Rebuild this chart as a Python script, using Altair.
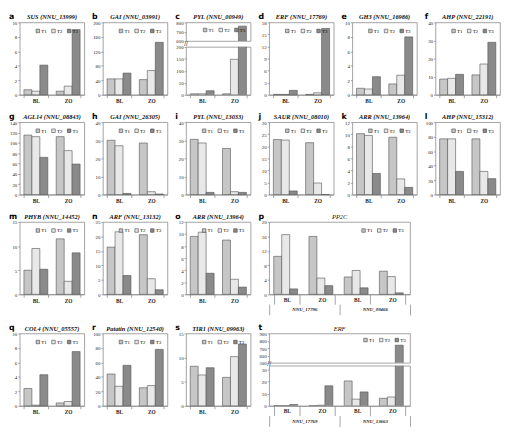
import altair as alt
import pandas as pd

treatments = ["T1", "T2", "T3"]
groups = ["BL", "ZO"]
bar_colors = ["#c6c6c6", "#e8e8e8", "#8a8a8a"]

letters = list("abcdefghijklmnopqrst")
titles = ["SUS (NNU_13999)", "GAI (NNU_03991)", "PYL (NNU_00949)", "ERF (NNU_17769)",
          "GH3 (NNU_16986)", "AHP (NNU_22191)", "AGL14 (NNU_08843)", "GAI (NNU_26305)",
          "PYL (NNU_13033)", "SAUR (NNU_08010)", "ARR (NNU_13964)", "AHP (NNU_15312)",
          "PHYB (NNU_14452)", "ARF (NNU_13132)", "ARR (NNU_13964)", "PP2C",
          "COL4 (NNU_05557)", "Patatin (NNU_12540)", "TIR1 (NNU_09963)", "ERF"]

# values: BL T1, T2, T3, ZO T1, T2, T3
v_a = [0.7, 0.5, 4.1, 0.5, 1.2, 9.0]
v_b = [44, 44, 60, 42, 67, 145]
v_c = [4, 4, 17, 4, 148, 760]
v_d = [0.1, 0.1, 1.1, 0.1, 0.5, 16.5]
v_e = [0.9, 0.8, 2.5, 1.5, 2.7, 8.0]
v_f = [8.7, 9.1, 11.3, 11.0, 17.0, 29.0]
v_g = [115, 112, 72, 112, 85, 59]
v_h = [30, 27, 0.6, 28.5, 1.6, 0.3]
v_i = [30.5, 28.5, 1.2, 25.5, 1.6, 1.2]
v_j = [22.8, 22.6, 1.5, 21.5, 4.8, 0]
v_k = [10.1, 9.8, 3.5, 9.5, 2.6, 1.2]
v_l = [77, 77, 32, 77, 32, 22]
v_m = [5.0, 9.5, 5.2, 11.5, 2.7, 8.6]
v_n = [16.3, 21.6, 6.5, 20.6, 5.4, 1.6]
v_o = [9.6, 10.3, 3.5, 9.0, 2.5, 1.2]
v_q = [2.4, 0.1, 4.3, 0.4, 0.6, 7.5]
v_r = [44, 27, 56, 25, 28, 78]
v_s = [8.2, 6.4, 7.9, 5.9, 10.2, 12.8]
# wide panels: gene1 BL, gene1 ZO, gene2 BL, gene2 ZO (T1, T2, T3 each)
p_genes = ["NNU_17796", "NNU_09466"]
v_p = [10.5, 16.5, 1.5, 16.0, 4.5, 2.4, 4.8, 6.6, 1.8, 6.4, 4.9, 0.4]
t_genes = ["NNU_17769", "NNU_13663"]
v_t = [0.1, 0.1, 1.1, 0.1, 0.5, 16.5, 20.5, 5.5, 11.5, 6.2, 7.3, 740]

t_a = [0, 2, 4, 6, 8, 10]
t_b = [0, 40, 80, 120, 160, 200]
t_c_low = [0, 50, 100, 150, 200]
t_c_high = [600, 700, 800]
t_d = [0, 3, 6, 9, 12, 15, 18]
t_e = [0, 2, 4, 6, 8, 10]
t_f = [0, 10, 20, 30, 40]
t_g = [0, 20, 40, 60, 80, 100, 120, 140]
t_h = [0, 10, 20, 30, 40]
t_i = [0, 10, 20, 30, 40]
t_j = [0, 5, 10, 15, 20, 25, 30]
t_k = [0, 2, 4, 6, 8, 10, 12]
t_l = [0, 20, 40, 60, 80, 100]
t_m = [0, 5, 10, 15]
t_n = [0, 5, 10, 15, 20, 25]
t_o = [0, 2, 4, 6, 8, 10, 12]
t_p = [0, 4, 8, 12, 16, 20]
t_q = [0, 2, 4, 6, 8, 10]
t_r = [0, 20, 40, 60, 80, 100]
t_s = [0, 5, 10, 15]
t_t_low = [0, 10, 20, 30]
t_t_high = [500, 600, 700, 800, 900]

W = 66
H = 74
WW = 144
SERIF = "Liberation Serif"


def legend(offset=6):
    return alt.Legend(orient="top-right", direction="horizontal", title=None,
                      columns=3, symbolType="square", symbolSize=13,
                      symbolStrokeColor="#444", symbolStrokeWidth=0.6,
                      labelFontSize=5, labelFont=SERIF, labelOffset=1,
                      columnPadding=3, offset=offset, padding=0)


def x_small():
    return alt.Axis(labelAngle=0, labelFontSize=5.5, labelFontWeight="bold",
                    labelFont=SERIF, tickBand="extent", tickSize=3, labelPadding=1)


def x_wide():
    return alt.Axis(labelAngle=0, labelFontSize=5.5, labelFontWeight="bold",
                    labelFont=SERIF, tickBand="extent", tickSize=10, labelPadding=-7,
                    labelExpr="substring(datum.label, 1)")


def bar_layer(df, xfield, xsort, xaxis, ticks, domain, leg=None, clip=False):
    color = alt.Color("treat:N", scale=alt.Scale(domain=treatments, range=bar_colors),
                      legend=leg if leg is not None else None)
    return alt.Chart(df).mark_bar(stroke="#505050", strokeWidth=0.6, clip=clip).encode(
        x=alt.X(f"{xfield}:N", sort=xsort, title=None,
                scale=alt.Scale(paddingInner=0.26, paddingOuter=0.13), axis=xaxis),
        xOffset=alt.XOffset("treat:N", sort=treatments, scale=alt.Scale(paddingInner=0, paddingOuter=0)),
        y=alt.Y("value:Q", scale=alt.Scale(domain=domain, nice=False, zero=False), title=None,
                axis=alt.Axis(values=ticks, labelFontSize=5, tickSize=2, labelPadding=1,
                              domain=False, grid=False, labelOverlap=False)),
        color=color,
    )


def labels(letter, title, width, bold_title=True):
    return [
        alt.Chart(pd.DataFrame({"l": [letter]})).mark_text(
            font="DejaVu Sans", fontWeight="bold", fontSize=8, align="left", baseline="bottom"
        ).encode(x=alt.value(-11), y=alt.value(-1.5), text="l:N"),
        alt.Chart(pd.DataFrame({"l": [title]})).mark_text(
            font=SERIF, fontWeight="bold" if bold_title else "normal", fontStyle="italic",
            fontSize=6.5, align="center", baseline="bottom", color="#111"
        ).encode(x=alt.value(width / 2), y=alt.value(-2), text="l:N"),
    ]


def break_mark(gap):
    return alt.Chart(pd.DataFrame({"k": ["//"]})).mark_text(fontSize=7, color="#444").encode(
        x=alt.value(0), y=alt.value(-gap / 2), text="k:N")


def small_df(vals):
    return pd.DataFrame({"group": [g for g in groups for _ in treatments],
                         "treat": treatments * 2, "value": vals})


def wide_df(vals):
    keys = [f"{i}{g}" for i in range(2) for g in groups]
    return keys, pd.DataFrame({"key": [k for k in keys for _ in treatments],
                               "treat": treatments * 4, "value": vals})


def gene_axis(genes):
    return alt.Chart(pd.DataFrame({"gene": genes})).mark_point(opacity=0).encode(
        x=alt.X("gene:N", sort=genes, title=None,
                scale=alt.Scale(paddingInner=0, paddingOuter=0),
                axis=alt.Axis(orient="bottom", offset=10, domain=False, tickBand="extent",
                              tickSize=11, labelPadding=-8, labelAngle=0, labelFontSize=5,
                              labelFont=SERIF, labelFontStyle="italic", labelFontWeight="bold")),
        y=alt.value(0))


def small_panel(letter, title, vals, ticks):
    df = small_df(vals)
    bars = bar_layer(df, "group", groups, x_small(), ticks, [ticks[0], ticks[-1]], leg=legend())
    return alt.layer(bars, *labels(letter, title, W)).properties(width=W, height=H)


def small_broken(letter, title, vals, ticks_lo, ticks_hi, dom_lo, dom_hi, h_hi, gap):
    df = small_df(vals)
    upper = alt.layer(
        bar_layer(df, "group", groups, None, ticks_hi, dom_hi, leg=legend(5), clip=True),
        *labels(letter, title, W)).properties(width=W, height=h_hi)
    lower = alt.layer(
        bar_layer(df, "group", groups, x_small(), ticks_lo, dom_lo, clip=True),
        break_mark(gap)).properties(width=W, height=H - h_hi - gap)
    return alt.vconcat(upper, lower, spacing=gap, bounds="flush").resolve_scale(color="independent")


def wide_panel(letter, title, genes, vals, ticks):
    keys, df = wide_df(vals)
    bars = bar_layer(df, "key", keys, x_wide(), ticks, [ticks[0], ticks[-1]], leg=legend())
    return alt.layer(bars, gene_axis(genes), *labels(letter, title, WW, False)).resolve_scale(
        x="independent").properties(width=WW, height=H)


def wide_broken(letter, title, genes, vals, ticks_lo, ticks_hi, dom_lo, dom_hi, h_hi, gap):
    keys, df = wide_df(vals)
    upper = alt.layer(
        bar_layer(df, "key", keys, None, ticks_hi, dom_hi, leg=legend(4), clip=True),
        *labels(letter, title, WW, False)).properties(width=WW, height=h_hi)
    lower = alt.layer(
        bar_layer(df, "key", keys, x_wide(), ticks_lo, dom_lo, clip=True),
        gene_axis(genes), break_mark(gap)).resolve_scale(x="independent").properties(
        width=WW, height=H - h_hi - gap)
    return alt.vconcat(upper, lower, spacing=gap, bounds="flush").resolve_scale(color="independent")


small_vals = [v_a, v_b, v_c, v_d, v_e, v_f, v_g, v_h, v_i, v_j, v_k, v_l, v_m, v_n, v_o, None, v_q, v_r, v_s, None]
small_ticks = [t_a, t_b, None, t_d, t_e, t_f, t_g, t_h, t_i, t_j, t_k, t_l, t_m, t_n, t_o, t_p, t_q, t_r, t_s, None]

charts = []
for idx in range(20):
    if idx == 2:
        charts.append(small_broken(letters[idx], titles[idx], v_c, t_c_low, t_c_high,
                                   [0, 200], [600, 800], 19, 6))
    elif idx == 15:
        charts.append(wide_panel(letters[idx], titles[idx], p_genes, v_p, t_p))
    elif idx == 19:
        charts.append(wide_broken(letters[idx], titles[idx], t_genes, v_t, t_t_low, t_t_high,
                                  [0, 33], [500, 900], 30, 3))
    else:
        charts.append(small_panel(letters[idx], titles[idx], small_vals[idx], small_ticks[idx]))

rows = [charts[0:6], charts[6:12], charts[12:16], charts[16:20]]
row_charts = [alt.hconcat(*r, spacing=6).resolve_scale(color="independent", x="independent") for r in rows]

chart = alt.vconcat(*row_charts, spacing=8).resolve_scale(color="independent").properties(
    padding=0
).configure_view(stroke="#8c8c8c", strokeWidth=0.8).configure_axis(
    labelFont=SERIF, labelColor="#222", tickColor="#8c8c8c", domainColor="#8c8c8c", tickWidth=0.8,
    domainWidth=0.8
)

chart.save("out.html", embed_options={"renderer": "svg", "actions": False})
